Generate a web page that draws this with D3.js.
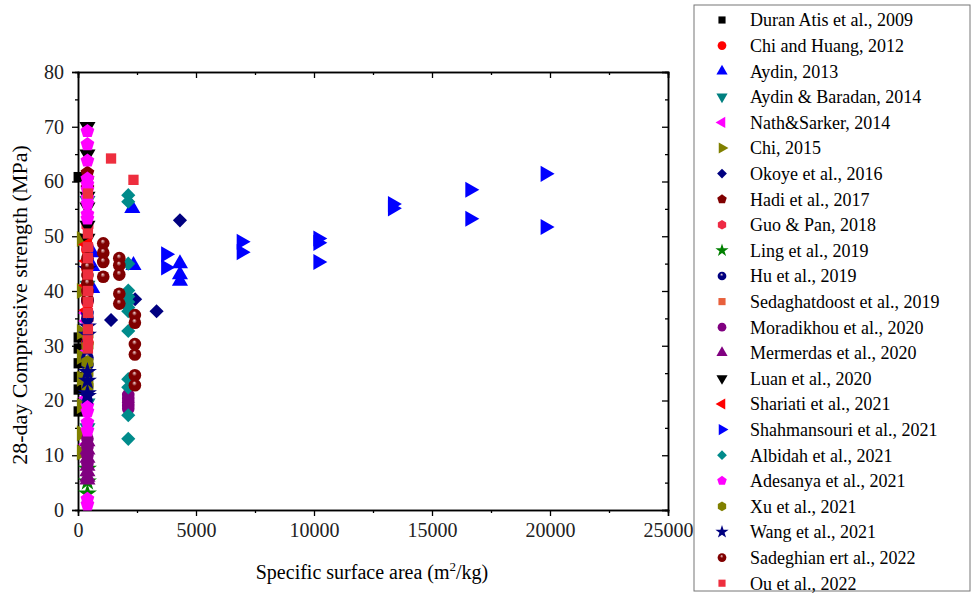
<!DOCTYPE html>
<html>
<head>
<meta charset="utf-8">
<script src="https://cdn.jsdelivr.net/npm/d3@7/dist/d3.min.js"></script>
<style>
  body { margin: 0; background: #fff; }
  svg { display: block; font-family: "Liberation Serif", "Times New Roman", serif; }
  svg text { font-family: "Liberation Serif", "Times New Roman", serif; }
</style>
</head>
<body>
<svg id="chart" width="972" height="599"></svg>
<script>
// study names (legend order)
var studyNames = [
  "Duran Atis et al., 2009", "Chi and Huang, 2012", "Aydin, 2013", "Aydin & Baradan, 2014",
  "Nath&Sarker, 2014", "Chi, 2015", "Okoye et al., 2016", "Hadi et al., 2017",
  "Guo & Pan, 2018", "Ling et al., 2019", "Hu et al., 2019", "Sedaghatdoost et al., 2019",
  "Moradikhou et al., 2020", "Mermerdas et al., 2020", "Luan et al., 2020", "Shariati et al., 2021",
  "Shahmansouri et al., 2021", "Albidah et al., 2021", "Adesanya et al., 2021", "Xu et al., 2021",
  "Wang et al., 2021", "Sadeghian ert al., 2022", "Ou et al., 2022"
];

// [specific surface area (m2/kg), 28-day compressive strength (MPa)]
var duranAtis2009 = [[30, 60.8], [30, 31.5], [30, 29.5], [30, 26.8], [30, 24.3], [30, 22], [30, 18]];
var chiHuang2012 = [[400, 47.5], [400, 44], [400, 41], [400, 38], [400, 30.5]];
var aydin2013 = [[2300, 55.1], [2350, 44.7], [4320, 45], [4320, 43], [4320, 41.8], [600, 47], [600, 44.5], [600, 40.5]];
var aydinBaradan2014 = [[400, 56.5], [400, 41], [400, 19.5], [400, 15]];
var nathSarker2014 = [[400, 36], [400, 34.5], [400, 29], [400, 20.5], [400, 12]];
var chi2015 = [[150, 49.5], [150, 40], [150, 32.5], [150, 28], [150, 24], [150, 19], [150, 14], [150, 10.5]];
var okoye2016 = [[4320, 52.9], [3330, 36.3], [1400, 34.7], [2420, 38.5]];
var hadi2017 = [[400, 61.6], [400, 60.5], [400, 58.8]];
var guoPan2018 = [[400, 52], [400, 48], [400, 44.5], [400, 40], [400, 35]];
var ling2019 = [[400, 3], [400, 5.2], [400, 7.5]];
var hu2019 = [[400, 38.3], [400, 36], [400, 35], [400, 27.8], [400, 26.5]];
var sedaghatdoost2019 = [[400, 57.5], [400, 46], [400, 42]];
var moradikhou2020 = [[2130, 21], [2130, 20.3], [2130, 19.7], [2130, 19], [2130, 18.5], [400, 13], [400, 11.5], [400, 10], [400, 8.5]];
var mermerdas2020 = [[400, 12.5], [400, 11], [400, 9.5], [400, 8], [400, 7], [400, 6], [400, 5.5]];
var luan2020 = [[400, 70], [400, 65], [400, 57.3], [400, 55.3], [400, 52], [400, 49.6]];
var shariati2021 = [[400, 48.5], [400, 45.5], [400, 41], [400, 36.5]];
var shahmansouri2021 = [[3720, 46.7], [3720, 44.3], [6920, 49], [6920, 47.1], [10170, 49.6], [10170, 48.8],
  [10170, 45.3], [13330, 55.9], [13330, 55.1], [16610, 58.5], [16610, 53.2], [19800, 61.4], [19800, 51.7]];
var albidah2021 = [[2130, 57.5], [2130, 56.3], [2130, 45], [2130, 40.1], [2130, 39], [2130, 38], [2130, 37],
  [2130, 36.3], [2130, 32.7], [2130, 23.9], [2130, 22.4], [2130, 17.3], [2130, 13]];
var adesanya2021 = [[400, 69.2], [400, 66.8], [400, 63.8], [400, 60.5], [400, 59.5], [400, 58.5], [400, 57],
  [400, 56], [400, 54], [400, 53.2], [400, 19], [400, 18], [400, 16], [400, 14.5], [400, 2], [400, 1]];
var xu2021 = [[400, 32], [400, 30], [400, 27], [400, 25], [400, 23], [400, 22.5]];
var wang2021 = [[400, 44], [400, 33.5], [400, 32], [400, 25.2], [400, 23.6], [400, 21.3], [400, 20.8]];
var sadeghian2022 = [[400, 46], [400, 44.4], [400, 42.9], [400, 41.4], [400, 40], [400, 38.5],
  [1070, 48.7], [1070, 47], [1070, 45.3], [1070, 42.6],
  [1750, 46], [1750, 44.7], [1750, 43], [1750, 39.5], [1750, 37.7],
  [2410, 35.6], [2410, 34.2], [2410, 30.3], [2410, 28.4], [2410, 24.6], [2410, 22.8]];
var ou2022 = [[1400, 64.2], [2350, 60.3], [420, 57.8], [420, 50.5], [420, 48], [420, 46], [420, 43],
  [420, 40], [420, 38], [420, 36], [420, 33], [420, 31], [420, 29.5]];

var seriesData = [duranAtis2009, chiHuang2012, aydin2013, aydinBaradan2014, nathSarker2014, chi2015,
  okoye2016, hadi2017, guoPan2018, ling2019, hu2019, sedaghatdoost2019, moradikhou2020, mermerdas2020,
  luan2020, shariati2021, shahmansouri2021, albidah2021, adesanya2021, xu2021, wang2021, sadeghian2022, ou2022];

var xTicks = [0, 5000, 10000, 15000, 20000, 25000];
var yTicks = [0, 10, 20, 30, 40, 50, 60, 70, 80];

// marker look per study
var markerStyles = [
  ["square", "#000000"], ["circle", "#ff0000"], ["triUp", "#0000ff"], ["triDown", "#008080"],
  ["triLeft", "#ff00ff"], ["triRight", "#808000"], ["diamond", "#000080"], ["pentagon", "#800000"],
  ["hexagon", "#ee2a44"], ["star", "#008000"], ["ball", "#000080"], ["square", "#e8603c"],
  ["circle", "#800080"], ["triUp", "#800080"], ["triDown", "#000000"], ["triLeft", "#ff0000"],
  ["triRight", "#0000ff"], ["diamond", "#008b8b"], ["pentagon", "#ff00ff"], ["hexagon", "#808000"],
  ["star", "#000080"], ["ball", "#800000"], ["square", "#ee2e3e"]
];

var svg = d3.select("#chart");
var plotLeft = 78, plotRight = 668, plotTop = 72, plotBottom = 510;

var xScale = d3.scaleLinear().domain([0, 25000]).range([plotLeft, plotRight]);
var yScale = d3.scaleLinear().domain([0, 80]).range([plotBottom, plotTop]);

function polygonType(n) {
  return {
    draw: function (ctx, size) {
      var r = Math.sqrt(size / (n / 2 * Math.sin(2 * Math.PI / n)));
      for (var i = 0; i < n; i++) {
        var a = -Math.PI / 2 + i * 2 * Math.PI / n;
        if (i == 0) ctx.moveTo(r * Math.cos(a), r * Math.sin(a));
        else ctx.lineTo(r * Math.cos(a), r * Math.sin(a));
      }
      ctx.closePath();
    }
  };
}

var shapeInfo = {
  square: [d3.symbolSquare, 0, 0.85],
  circle: [d3.symbolCircle, 0, 1.0],
  ball: [d3.symbolCircle, 0, 1.0],
  triUp: [d3.symbolTriangle, 0, 0.9],
  triDown: [d3.symbolTriangle, 180, 0.9],
  triLeft: [d3.symbolTriangle, -90, 0.9],
  triRight: [d3.symbolTriangle, 90, 0.9],
  diamond: [d3.symbolSquare, 45, 0.8],
  pentagon: [polygonType(5), 0, 1.0],
  hexagon: [polygonType(6), 0, 1.0],
  star: [d3.symbolStar, 0, 0.9]
};

// gradients for the shaded balls
var defs = svg.append("defs");
markerStyles.forEach(function (s, i) {
  if (s[0] != "ball") return;
  var g = defs.append("radialGradient").attr("id", "ball" + i)
    .attr("cx", "50%").attr("cy", "50%").attr("r", "55%")
    .attr("fx", "45%").attr("fy", "30%");
  g.append("stop").attr("offset", "0%").attr("stop-color", "#f2d8d8");
  g.append("stop").attr("offset", "35%").attr("stop-color", s[1]);
  g.append("stop").attr("offset", "100%").attr("stop-color", s[1]);
});

function markerPath(i, size) {
  var info = shapeInfo[markerStyles[i][0]];
  return d3.symbol().type(info[0]).size(size * info[2])();
}
function markerFill(i) {
  return markerStyles[i][0] == "ball" ? "url(#ball" + i + ")" : markerStyles[i][1];
}
function markerRotate(i) {
  return shapeInfo[markerStyles[i][0]][1];
}

// axes
var xAxis = d3.axisBottom(xScale).tickValues(xTicks).tickSize(6).tickPadding(7).tickFormat(d3.format("d"));
var xMinor = d3.axisBottom(xScale).tickValues(d3.range(2500, 25000, 5000)).tickSize(3).tickFormat("");
var yAxis = d3.axisLeft(yScale).tickValues(yTicks).tickSize(6).tickPadding(8);
var yMinor = d3.axisLeft(yScale).tickValues(d3.range(5, 80, 10)).tickSize(3).tickFormat("");

svg.append("g").attr("transform", "translate(0," + plotBottom + ")").call(xAxis);
svg.append("g").attr("transform", "translate(0," + plotBottom + ")").call(xMinor);
svg.append("g").attr("transform", "translate(" + plotLeft + ",0)").call(yAxis);
svg.append("g").attr("transform", "translate(" + plotLeft + ",0)").call(yMinor);
svg.append("g").attr("transform", "translate(0," + plotTop + ")")
  .call(d3.axisTop(xScale).tickValues(xTicks).tickSize(-6).tickFormat(""));
svg.append("g").attr("transform", "translate(0," + plotTop + ")")
  .call(d3.axisTop(xScale).tickValues(d3.range(2500, 25000, 5000)).tickSize(-3).tickFormat(""));
svg.append("g").attr("transform", "translate(" + plotRight + ",0)")
  .call(d3.axisRight(yScale).tickValues(yTicks).tickSize(-6).tickFormat(""));
svg.append("g").attr("transform", "translate(" + plotRight + ",0)")
  .call(d3.axisRight(yScale).tickValues(d3.range(5, 80, 10)).tickSize(-3).tickFormat(""));

svg.selectAll(".domain").attr("stroke", "#000").attr("stroke-width", 1.5);
svg.selectAll(".tick line").attr("stroke", "#000").attr("stroke-width", 1.3);
svg.selectAll("g").attr("font-family", "Liberation Serif");
svg.selectAll(".tick text").attr("font-size", 20).attr("fill", "#222");

// axis titles
var xTitle = svg.append("text").attr("x", 372).attr("y", 579).attr("text-anchor", "middle")
  .attr("font-size", 20).attr("fill", "#000");
xTitle.append("tspan").text("Specific surface area (m");
xTitle.append("tspan").attr("font-size", 13).attr("dy", -8).text("2");
xTitle.append("tspan").attr("dy", 8).text("/kg)");

svg.append("text").attr("transform", "translate(27,305) rotate(-90)").attr("text-anchor", "middle")
  .attr("font-size", 22).attr("fill", "#000").text("28-day Compressive strength (MPa)");

// points
seriesData.forEach(function (pts, i) {
  svg.append("g").selectAll("path").data(pts).enter().append("path")
    .attr("d", markerPath(i, 125))
    .attr("transform", function (d) {
      return "translate(" + xScale(d[0]) + "," + yScale(d[1]) + ") rotate(" + markerRotate(i) + ")";
    })
    .attr("fill", markerFill(i));
});

// legend
var legX = 694, legY = 5, legW = 276, legH = 586, rowH = 25.6;
svg.append("rect").attr("x", legX).attr("y", legY).attr("width", legW).attr("height", legH)
  .attr("fill", "#fff").attr("stroke", "#777").attr("stroke-width", 1);
var leg = svg.append("g").selectAll("g").data(studyNames).enter().append("g")
  .attr("transform", function (d, i) { return "translate(0," + (20 + i * rowH) + ")"; });
leg.append("path")
  .attr("d", function (d, i) { return markerPath(i, 60); })
  .attr("transform", function (d, i) { return "translate(722,0) rotate(" + markerRotate(i) + ")"; })
  .attr("fill", function (d, i) { return markerFill(i); });
leg.append("text").attr("x", 750).attr("dy", "0.35em").attr("font-size", 18).attr("fill", "#000")
  .text(function (d) { return d; });
</script>
</body>
</html>
